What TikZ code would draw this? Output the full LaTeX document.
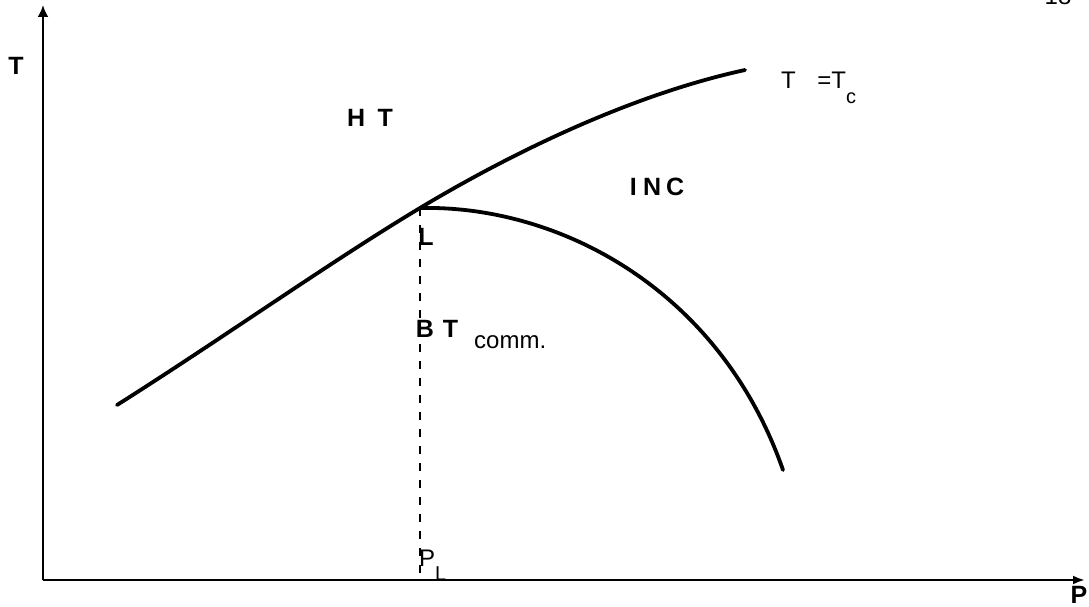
\documentclass[tikz,border=0pt]{standalone}
\usepackage{fontspec}
\setmainfont{Liberation Sans}
\usetikzlibrary{arrows.meta}
\begin{document}
\begin{tikzpicture}[x=1pt,y=-1pt,
  curve/.style={line width=3.8pt,line cap=round},
  axis/.style={line width=2.6pt},
  boldlbl/.style={font=\fontsize{25}{27}\selectfont\bfseries,inner sep=0pt},
  thinlbl/.style={font=\fontsize{24}{26}\selectfont,inner sep=0pt}]
\useasboundingbox (0,0) rectangle (1089,607);
\coordinate (O) at (43,580);
\coordinate (Ytop) at (43,5);
\coordinate (Xend) at (1085,580);
\coordinate (Start) at (117,405);
\coordinate (Lpt) at (420,208);
\coordinate (Tcend) at (745,70);
\coordinate (Bend) at (783,470);
\coordinate (Lfoot) at (420,580);
\draw[axis,-{Latex[length=12pt,width=11pt]}] (O) -- (Ytop);
\draw[axis,-{Latex[length=12pt,width=9pt]}] (O) -- (Xend);
\draw[curve] (Start) .. controls (220,340) and (330,262) .. (Lpt)
  .. controls (510,154) and (630,95) .. (Tcend);
\draw[curve] (Lpt) .. controls (560,205) and (720,290) .. (Bend);
\draw[line width=2.2pt,dash pattern=on 8pt off 9pt] (Lpt) -- (Lfoot);
\node[boldlbl] (tl) at (16,66) {T};
\node[boldlbl] (pl) at (1079,595) {P};
\node[boldlbl] (ht) at (370,118) {H\hspace{0.5em}T};
\node[boldlbl] (inc) at (657,187) {I\hspace{0.25em}N\hspace{0.2em}C};
\node[boldlbl] (ll) at (426,237) {L};
\node[boldlbl] (bt) at (437,329) {B\hspace{0.35em}T};
\node[thinlbl,anchor=base west] (comm) at (474,348) {comm.};
\node[thinlbl,anchor=base west] (tc) at (781,89) {T\hspace{0.9em}=T\raisebox{-15pt}{\fontsize{20}{22}\selectfont c}};
\node[thinlbl,anchor=base west] (pL) at (419,566) {P\raisebox{-14pt}{\fontsize{20}{22}\selectfont L}};
\node[thinlbl] (pg) at (1058,-4) {18};
\end{tikzpicture}
\end{document}
